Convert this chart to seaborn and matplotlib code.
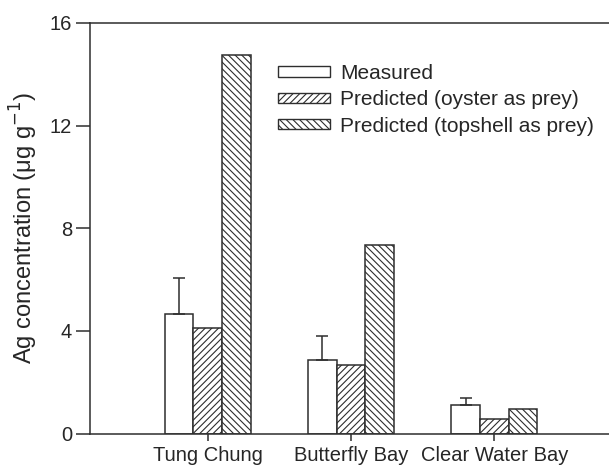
import matplotlib
matplotlib.use("Agg")
import matplotlib.pyplot as plt
from matplotlib.patches import Patch
import seaborn as sns
import pandas as pd

# Sites and series
sites = ["Tung Chung", "Butterfly Bay", "Clear Water Bay"]
series = ["Measured", "Predicted (oyster as prey)", "Predicted (topshell as prey)"]
measured = [4.67, 2.87, 1.10]
measured_err = [1.38, 0.93, 0.28]
oyster = [4.10, 2.68, 0.57]
topshell = [14.74, 7.34, 0.95]
yticks = [0, 4, 8, 12, 16]

df = pd.DataFrame({
    "site": sites * 3,
    "series": [s for s in series for _ in sites],
    "value": measured + oyster + topshell,
})

sns.set_theme(style="white")
plt.rcParams["font.family"] = ["Liberation Sans", "DejaVu Sans"]
plt.rcParams["hatch.linewidth"] = 0.8

ink = "#2e2e2e"
fig = plt.figure(figsize=(6.09, 4.68), dpi=100)
ax = fig.add_axes([90 / 609, 34.3 / 468, 519 / 609, 410.9 / 468])

sns.barplot(data=df, x="site", y="value", hue="series", order=sites,
            hue_order=series, width=0.6, palette=["white"] * 3,
            edgecolor=ink, linewidth=1.1, errorbar=None, legend=False, ax=ax)

hatches = ["", "/////", "\\\\\\\\\\"]
for cont, h in zip(ax.containers, hatches):
    for bar in cont:
        bar.set_hatch(h)
        bar.set_edgecolor(ink)

# one-sided error bars on the measured bars
xs = [b.get_x() + b.get_width() / 2 for b in ax.containers[0]]
ax.errorbar(xs, measured, yerr=[[0] * len(measured_err), measured_err],
            fmt="none", ecolor=ink, elinewidth=1.1, capsize=4.3,
            capthick=1.1, zorder=1)

ax.set_xlim(-0.82, 2.80)
ax.set_ylim(0, 16)
ax.set_yticks(yticks)
ax.set_yticklabels([str(t) for t in yticks])
ax.set_xlabel("")
ax.set_ylabel("Ag concentration (μg g$^{−1}$)", fontsize=17, labelpad=7)

for side in ["left", "bottom", "top"]:
    ax.spines[side].set_visible(True)
    ax.spines[side].set_color(ink)
    ax.spines[side].set_linewidth(1.1)
ax.spines["right"].set_visible(False)

ax.tick_params(axis="y", direction="out", length=10, width=1.1, color=ink,
               labelsize=14.5, pad=3, left=True)
ax.tick_params(axis="x", direction="out", length=5, width=1.1, color=ink,
               labelsize=14.5, pad=4, bottom=True)

handles = [Patch(facecolor="white", edgecolor=ink, hatch=h, linewidth=1.0)
           for h in hatches]
ax.legend(handles, series, loc="upper left",
          bbox_to_anchor=(278 / 609, 1 - 64 / 468),
          bbox_transform=fig.transFigure, frameon=False, fontsize=15,
          handlelength=2.5, handleheight=0.4, handletextpad=0.5,
          labelspacing=0.35, borderpad=0, borderaxespad=0)

fig.savefig("out.png", dpi=100)
